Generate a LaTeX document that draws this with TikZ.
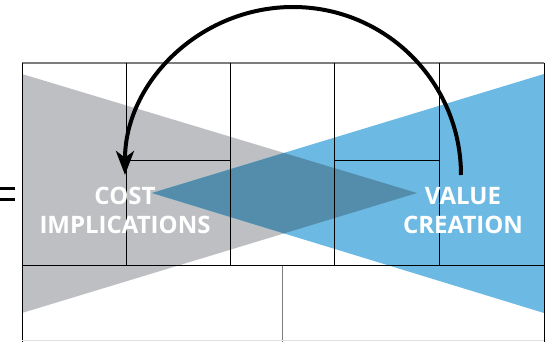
\documentclass[tikz,border=0pt]{standalone}
\usepackage{fontspec}
\setmainfont{Open Sans}
\usetikzlibrary{arrows.meta}
\definecolor{costgrey}{RGB}{190,191,194}
\definecolor{valueblue}{RGB}{108,186,227}
\definecolor{overlapblue}{RGB}{84,141,172}
\definecolor{gridgrey}{RGB}{125,125,125}
\tikzset{every picture/.style={line width=0.75pt},
  tagtext/.style={font=\bfseries\fontsize{18}{20}\selectfont,text=white,inner sep=0pt,anchor=base}}

\begin{document}
\begin{tikzpicture}[x=0.75pt,y=0.75pt,yscale=-1,xscale=1]
\useasboundingbox (0,0) rectangle (547,342);

%Triangles
\fill[costgrey] (22,74) -- (417,193) -- (22,313) -- cycle;
\fill[valueblue] (544,74) -- (152,193) -- (544,313) -- cycle;
\begin{scope}
\clip (22,74) -- (417,193) -- (22,313) -- cycle;
\fill[overlapblue] (544,74) -- (152,193) -- (544,313) -- cycle;
\end{scope}

%Grid
\draw[gridgrey, line width=1.1] (22,63) -- (544,63);
\draw (22,63) -- (22,342);
\draw (126,63) -- (126,266);
\draw (230,63) -- (230,266);
\draw (334,63) -- (334,266);
\draw (439,63) -- (439,266);
\draw (544,63) -- (544,342);
\draw (22,266) -- (544,266);
\draw (126,161) -- (230,161);
\draw (334,161) -- (439,161);
\draw[gridgrey] (282,266) -- (282,342);
\draw[black!12] (22,341) -- (544,341);

%Equals sign
\draw[line width=2.25pt] (0,189) -- (15,189);
\draw[line width=2.25pt] (0,200) -- (15,200);

% Text Nodes
\node[tagtext] (cost) at (125,205) {COST};
\node[tagtext] (implications) at (125,234) {IMPLICATIONS};
\node[tagtext] (value) at (463,205) {VALUE};
\node[tagtext] (creation) at (463,234) {CREATION};

%Arc arrow
\coordinate (valuestart) at (461,175);
\draw[line width=3pt, line cap=butt, -{Stealth[length=18pt,width=13.5pt,inset=5pt]}] (valuestart) arc[start angle=0, end angle=-180, radius=168];

\end{tikzpicture}
\end{document}
